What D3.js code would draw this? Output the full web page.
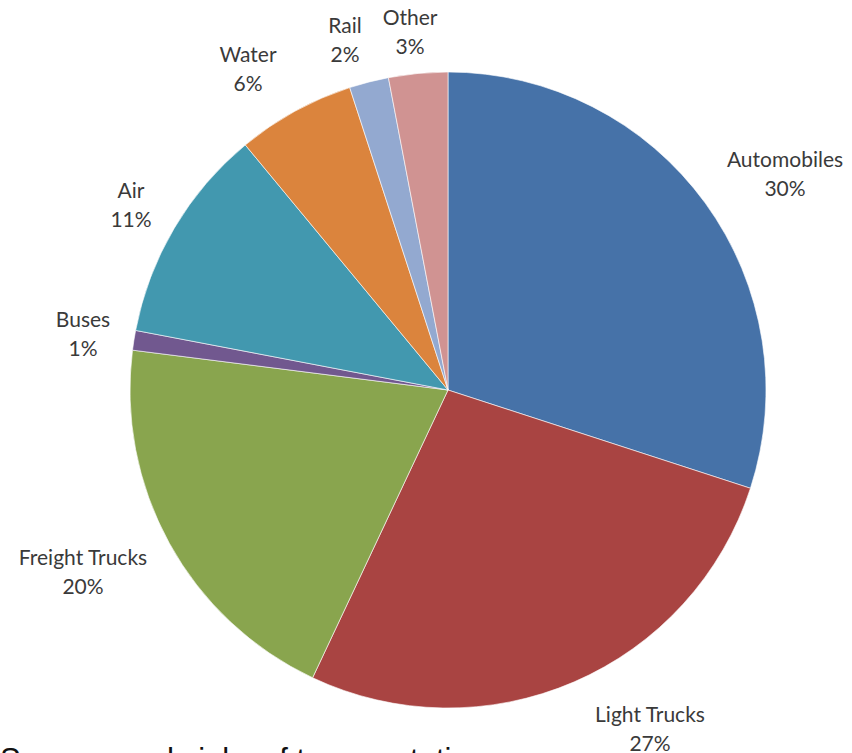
<!DOCTYPE html>
<html>
<head>
<meta charset="utf-8">
<script src="https://cdn.jsdelivr.net/npm/d3@7/dist/d3.min.js"></script>
<style>
  html, body { margin: 0; padding: 0; background: #fff; }
  svg { display: block; }
</style>
</head>
<body>
<svg id="chart" width="852" height="753"></svg>
<script>
// Share of transportation by mode (percent), clockwise from 12 o'clock
const categories = ["Automobiles", "Light Trucks", "Freight Trucks", "Buses", "Air", "Water", "Rail", "Other"];
const shares = [30, 27, 20, 1, 11, 6, 2, 3];
const colors = ["#4672a8", "#a94442", "#89a54e", "#71588f", "#4298af", "#db843d", "#93a9d0", "#d09392"];
// label anchor points (centre of the two-line label, baseline of first line)
const labelX = [785, 650, 83, 83, 131, 248, 345, 410];
const labelY = [167, 722, 565, 327, 198, 62, 33, 25];
const caption = "Sources and sinks of transportation";

const svg = d3.select("#chart");
const cx = 448, cy = 390, radius = 318;

const pie = d3.pie().sort(null).value(d => d.value);
const arc = d3.arc().innerRadius(0).outerRadius(radius);

const data = categories.map((c, i) => ({ name: c, value: shares[i], color: colors[i] }));

const g = svg.append("g").attr("transform", `translate(${cx},${cy})`);
g.selectAll("path")
  .data(pie(data))
  .join("path")
  .attr("d", arc)
  .attr("fill", d => d.data.color)
  .attr("stroke", "#ffffff")
  .attr("stroke-width", 0.6);

const labels = svg.append("g")
  .attr("font-family", "Lato, 'Open Sans', sans-serif")
  .attr("font-size", 21)
  .attr("fill", "#3a3a3a")
  .attr("text-anchor", "middle");

data.forEach((d, i) => {
  const t = labels.append("text")
    .attr("x", labelX[i])
    .attr("y", labelY[i]);
  t.append("tspan").attr("x", labelX[i]).text(d.name);
  t.append("tspan").attr("x", labelX[i]).attr("dy", 29).text(d.value + "%");
});

svg.append("text")
  .attr("x", 0)
  .attr("y", 770)
  .attr("font-family", "'Liberation Sans', Arial, sans-serif")
  .attr("font-size", 31)
  .attr("fill", "#111")
  .text(caption);
</script>
</body>
</html>
